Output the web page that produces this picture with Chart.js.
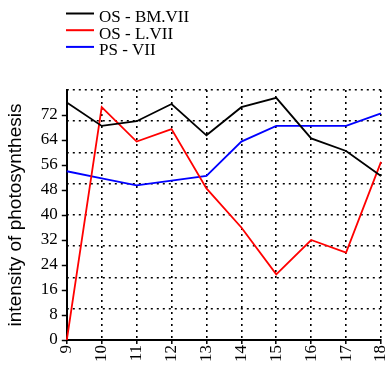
<!DOCTYPE html>
<html>
<head>
<meta charset="utf-8">
<script src="https://cdn.jsdelivr.net/npm/chart.js@4/dist/chart.umd.min.js"></script>
<style>
  html, body { margin: 0; padding: 0; background: #fff; }
  #wrap { width: 390px; height: 365px; position: relative; }
</style>
</head>
<body>
<div id="wrap"><canvas id="c" width="390" height="365"></canvas></div>
<script>
// Hours of the day
const hours = [9, 10, 11, 12, 13, 14, 15, 16, 17, 18];

// Photosynthesis intensity per series
const osBmVii = [76, 68.5, 70, 75.5, 65.5, 74.5, 77.5, 64.5, 60.5, 52.5];
const osLVii  = [0, 74.5, 63.5, 67.5, 48.5, 36, 21, 32, 28, 57];
const psVii   = [54, 51.7, 49.5, 51, 52.5, 63.5, 68.5, 68.5, 68.5, 72.5];

// Labelled ticks on the value axis and the dotted grid levels
const yTickValues = [0, 8, 16, 24, 32, 40, 48, 56, 64, 72];
const yGridValues = [10, 20, 30, 40, 50, 60, 70, 80];

const seriesNames = ['OS - BM.VII', 'OS - L.VII', 'PS - VII'];
const seriesColors = ['#000000', '#ff0000', '#0000ff'];

const serif = '"Liberation Serif", "Times New Roman", serif';
const sans = '"Liberation Sans", Arial, sans-serif';

// Stacked legend in the top-left corner
const stackedLegend = {
  id: 'stackedLegend',
  afterDraw(chart) {
    const ctx = chart.ctx;
    ctx.save();
    ctx.font = '17px ' + serif;
    ctx.textBaseline = 'alphabetic';
    ctx.textAlign = 'left';
    chart.data.datasets.forEach((ds, i) => {
      const lineY = 13.5 + i * 16.7;
      const baseY = 21.8 + i * 16.7;
      ctx.strokeStyle = ds.borderColor;
      ctx.lineWidth = 2;
      ctx.beginPath();
      ctx.moveTo(66, lineY);
      ctx.lineTo(94, lineY);
      ctx.stroke();
      ctx.fillStyle = '#000';
      ctx.fillText(ds.label, 99, baseY);
    });
    ctx.restore();
  }
};

const dataSets = [osBmVii, osLVii, psVii].map((vals, i) => ({
  label: seriesNames[i],
  data: vals,
  borderColor: seriesColors[i],
  backgroundColor: seriesColors[i],
  borderWidth: 1.8,
  pointRadius: 0,
  tension: 0,
  fill: false,
  yAxisID: 'y'
}));

new Chart(document.getElementById('c'), {
  type: 'line',
  data: { labels: hours, datasets: dataSets },
  plugins: [stackedLegend],
  options: {
    responsive: false,
    animation: false,
    devicePixelRatio: 1,
    layout: { padding: { top: 90, right: 0, left: 4, bottom: 2 } },
    plugins: { legend: { display: false }, tooltip: { enabled: false } },
    scales: {
      x: {
        type: 'category',
        offset: false,
        // the last rotated hour label only needs half its line height at the right
        afterFit: (axis) => { axis.paddingRight = 9; },
        ticks: {
          color: '#000',
          font: { family: serif, size: 17 },
          minRotation: 90,
          maxRotation: 90,
          padding: 1,
          autoSkip: false
        },
        grid: {
          color: (c) => (c.index === 0 ? 'rgba(0,0,0,0)' : '#000'),
          lineWidth: 1.6,
          tickColor: '#000',
          tickWidth: 1.5,
          tickLength: 4,
          offset: false
        },
        border: { display: true, color: '#000', width: 2, dash: [2, 4] }
      },
      y: {
        type: 'linear',
        position: 'left',
        min: 0,
        max: 80,
        afterBuildTicks: (axis) => { axis.ticks = yTickValues.map(v => ({ value: v })); },
        ticks: {
          color: '#000',
          font: { family: serif, size: 17 },
          padding: 4
        },
        grid: {
          drawOnChartArea: false,
          drawTicks: true,
          tickColor: '#000',
          tickWidth: 1.5,
          tickLength: 5
        },
        border: { display: true, color: '#000', width: 2 },
        title: {
          display: true,
          text: 'intensity of photosynthesis',
          color: '#000',
          font: { family: sans, size: 19 },
          padding: { top: 0, bottom: 10 }
        }
      },
      yGrid: {
        type: 'linear',
        position: 'right',
        min: 0,
        max: 80,
        afterBuildTicks: (axis) => { axis.ticks = yGridValues.map(v => ({ value: v })); },
        ticks: { display: false },
        grid: {
          color: '#000',
          lineWidth: 1.6,
          drawTicks: false
        },
        border: { display: false, dash: [2, 4] }
      }
    }
  }
});
</script>
</body>
</html>
